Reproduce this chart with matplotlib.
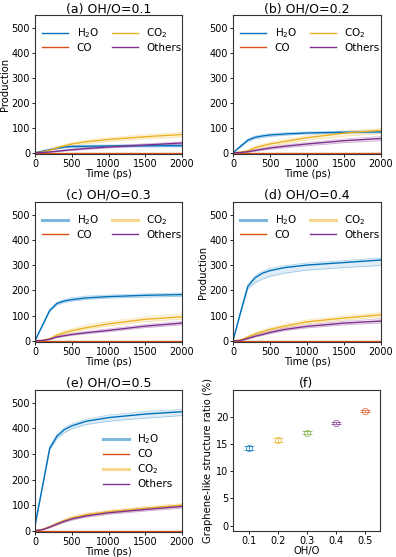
import matplotlib
matplotlib.use("Agg")
import matplotlib.pyplot as plt
from matplotlib.lines import Line2D

# time grid (ps)
t = [0, 100, 200, 300, 400, 500, 700, 1000, 1500, 2000]
co_zero = [0, 0, 0, 0, 0, 0, 0, 0, 0, 0]

# (a) OH/O=0.1
a_h2o = [0, 6, 12, 18, 23, 25, 26, 27, 28, 28]
a_h2o_lo = [0, 5, 10, 15, 19, 21, 22, 23, 23, 24]
a_h2o_hi = [0, 8, 15, 22, 27, 29, 30, 31, 32, 33]
a_co2 = [0, 3, 10, 20, 28, 35, 44, 53, 64, 73]
a_co2_lo = [0, 2, 7, 15, 22, 28, 36, 45, 56, 63]
a_co2_hi = [0, 4, 13, 24, 33, 40, 50, 60, 72, 82]
a_oth = [0, 1, 3, 6, 9, 12, 17, 23, 31, 39]
a_oth_lo = [0, 0, 2, 4, 7, 9, 13, 19, 27, 34]
a_oth_hi = [0, 2, 5, 8, 12, 15, 20, 27, 36, 43]

# (b) OH/O=0.2
b_h2o = [0, 25, 50, 62, 67, 71, 75, 79, 82, 83]
b_h2o_lo = [0, 22, 45, 56, 61, 65, 70, 75, 78, 80]
b_h2o_hi = [0, 28, 55, 67, 72, 76, 80, 83, 86, 88]
b_co2 = [0, 2, 8, 20, 28, 35, 45, 60, 78, 90]
b_co2_lo = [0, 1, 5, 14, 21, 27, 36, 50, 66, 76]
b_co2_hi = [0, 3, 11, 25, 34, 42, 53, 68, 86, 97]
b_oth = [0, 1, 4, 9, 14, 19, 26, 35, 48, 57]
b_oth_lo = [0, 0, 2, 6, 10, 14, 20, 28, 40, 48]
b_oth_hi = [0, 2, 6, 12, 18, 23, 31, 41, 55, 65]

# (c) OH/O=0.3
c_h2o = [0, 60, 120, 148, 158, 163, 170, 175, 180, 183]
c_h2o_lo = [0, 58, 116, 142, 152, 157, 164, 169, 173, 176]
c_h2o_hi = [0, 62, 124, 153, 164, 170, 177, 181, 186, 189]
c_co2 = [0, 1, 8, 22, 32, 40, 52, 67, 85, 95]
c_co2_lo = [0, 0, 6, 18, 27, 34, 45, 59, 76, 86]
c_co2_hi = [0, 2, 11, 28, 39, 48, 61, 76, 95, 106]
c_oth = [0, 1, 6, 15, 20, 25, 32, 41, 58, 70]
c_oth_lo = [0, 0, 4, 12, 17, 21, 27, 36, 52, 63]
c_oth_hi = [0, 2, 8, 18, 24, 29, 37, 47, 64, 77]

# (d) OH/O=0.4
d_h2o = [0, 110, 215, 250, 268, 278, 290, 300, 310, 320]
d_h2o_lo = [0, 105, 205, 230, 245, 255, 268, 280, 290, 298]
d_h2o_hi = [0, 113, 222, 258, 276, 287, 298, 308, 318, 328]
d_co2 = [0, 2, 15, 27, 36, 45, 58, 75, 90, 103]
d_co2_lo = [0, 1, 11, 22, 30, 38, 51, 67, 82, 95]
d_co2_hi = [0, 3, 18, 32, 42, 51, 66, 82, 98, 112]
d_oth = [0, 1, 9, 18, 25, 33, 45, 57, 70, 78]
d_oth_lo = [0, 0, 6, 14, 21, 28, 40, 51, 63, 70]
d_oth_hi = [0, 2, 12, 22, 30, 38, 51, 63, 77, 87]

# (e) OH/O=0.5
e_h2o = [20, 170, 322, 370, 395, 410, 428, 442, 456, 465]
e_h2o_lo = [18, 165, 315, 360, 383, 398, 415, 428, 440, 450]
e_h2o_hi = [22, 175, 328, 378, 403, 418, 436, 452, 466, 474]
e_co2 = [0, 5, 15, 28, 40, 50, 63, 74, 88, 100]
e_co2_lo = [0, 3, 12, 24, 35, 44, 57, 68, 82, 94]
e_co2_hi = [0, 7, 18, 33, 45, 56, 69, 80, 94, 106]
e_oth = [0, 4, 14, 26, 37, 46, 58, 70, 83, 95]
e_oth_lo = [0, 3, 11, 22, 32, 41, 53, 64, 77, 88]
e_oth_hi = [0, 6, 17, 30, 41, 51, 64, 76, 89, 101]

# (f) graphene-like ratio
oho = [0.1, 0.2, 0.3, 0.4, 0.5]
ratio = [14.3, 15.8, 17.1, 18.9, 21.1]
ratio_err = [0.3, 0.3, 0.3, 0.2, 0.2]

BLUE = '#0072BD'
RED = '#D95319'
YEL = '#EDB120'
PUR = '#7E2F8E'
GRN = '#77AC30'
f_colors = [BLUE, YEL, GRN, PUR, RED]

plt.rcParams['font.family'] = 'DejaVu Sans'
plt.rcParams['font.size'] = 7.2

fig = plt.figure(figsize=(3.96, 5.57), dpi=100)
W, H = 396.0, 557.0


def add_ax(l, r, top, bot):
    return fig.add_axes([l / W, 1 - bot / H, (r - l) / W, (bot - top) / H])


def style(ax):
    for s in ax.spines.values():
        s.set_linewidth(0.8)
        s.set_color('0.2')
    ax.tick_params(labelsize=7, length=2.5, width=0.6, pad=1)


def prod_panel(ax, title, h2o, h2o_lo, h2o_hi, co2, co2_lo, co2_hi, oth, oth_lo, oth_hi, thick, ylab, legend_mode):
    for mean, lo, hi, c in [(h2o, h2o_lo, h2o_hi, BLUE), (co2, co2_lo, co2_hi, YEL), (oth, oth_lo, oth_hi, PUR)]:
        ax.fill_between(t, lo, hi, color=c, alpha=0.12, lw=0)
        ax.plot(t, lo, color=c, lw=0.6, alpha=0.3)
        ax.plot(t, hi, color=c, lw=0.6, alpha=0.3)
    ax.plot(t, co_zero, color=RED, lw=1.0)
    ax.plot(t, h2o, color=BLUE, lw=1.0)
    ax.plot(t, co2, color=YEL, lw=1.0)
    ax.plot(t, oth, color=PUR, lw=1.0)
    ax.set_xlim(0, 2000)
    ax.set_ylim(-5, 550)
    ax.set_xticks([0, 500, 1000, 1500, 2000])
    ax.set_yticks([0, 100, 200, 300, 400, 500])
    ax.set_title(title, fontsize=9, pad=1.5)
    ax.set_xlabel('Time (ps)', labelpad=0)
    if ylab:
        ax.set_ylabel('Production', labelpad=1)
    if thick:
        h_h2o = Line2D([], [], color=BLUE, lw=2.2, alpha=0.5)
        h_co2 = Line2D([], [], color=YEL, lw=2.2, alpha=0.5)
    else:
        h_h2o = Line2D([], [], color=BLUE, lw=1.0)
        h_co2 = Line2D([], [], color=YEL, lw=1.0)
    h_co = Line2D([], [], color=RED, lw=1.0)
    h_oth = Line2D([], [], color=PUR, lw=1.0)
    if legend_mode == 'two':
        ax.legend([h_h2o, h_co, h_co2, h_oth], ['H$_2$O', 'CO', 'CO$_2$', 'Others'],
                  ncol=2, loc='upper left', frameon=False, fontsize=7.5,
                  handlelength=2.5, handletextpad=0.8, columnspacing=1.2,
                  borderaxespad=0.3, labelspacing=0.25, bbox_to_anchor=(0.0, 0.97))
    else:
        ax.legend([h_h2o, h_co, h_co2, h_oth], ['H$_2$O', 'CO', 'CO$_2$', 'Others'],
                  loc='center right', frameon=False, fontsize=7.5,
                  handlelength=2.5, handletextpad=0.8, labelspacing=0.3,
                  bbox_to_anchor=(1.0, 0.5))
    style(ax)


ax_a = add_ax(35, 182, 15, 154)
prod_panel(ax_a, '(a) OH/O=0.1', a_h2o, a_h2o_lo, a_h2o_hi, a_co2, a_co2_lo, a_co2_hi,
           a_oth, a_oth_lo, a_oth_hi, False, True, 'two')
ax_b = add_ax(233, 381, 15, 154)
prod_panel(ax_b, '(b) OH/O=0.2', b_h2o, b_h2o_lo, b_h2o_hi, b_co2, b_co2_lo, b_co2_hi,
           b_oth, b_oth_lo, b_oth_hi, False, False, 'two')
ax_c = add_ax(35, 182, 202, 342)
prod_panel(ax_c, '(c) OH/O=0.3', c_h2o, c_h2o_lo, c_h2o_hi, c_co2, c_co2_lo, c_co2_hi,
           c_oth, c_oth_lo, c_oth_hi, True, False, 'two')
ax_d = add_ax(233, 381, 202, 342)
prod_panel(ax_d, '(d) OH/O=0.4', d_h2o, d_h2o_lo, d_h2o_hi, d_co2, d_co2_lo, d_co2_hi,
           d_oth, d_oth_lo, d_oth_hi, True, True, 'two')
ax_e = add_ax(35, 182, 390, 532)
prod_panel(ax_e, '(e) OH/O=0.5', e_h2o, e_h2o_lo, e_h2o_hi, e_co2, e_co2_lo, e_co2_hi,
           e_oth, e_oth_lo, e_oth_hi, True, False, 'one')

ax_f = add_ax(233, 380, 390, 531)
for x, y, err, c in zip(oho, ratio, ratio_err, f_colors):
    ax_f.errorbar([x], [y], yerr=[err], fmt='o', mfc='none', mec=c, ecolor=c,
                  ms=4.5, mew=0.6, elinewidth=0.6, capsize=3.5, capthick=0.6, alpha=0.8)
ax_f.set_xlim(0.045, 0.55)
ax_f.set_ylim(-1, 25)
ax_f.set_xticks(oho)
ax_f.set_yticks([0, 5, 10, 15, 20])
ax_f.set_title('(f)', fontsize=9, pad=1.5)
ax_f.set_xlabel('OH/O', labelpad=0)
ax_f.set_ylabel('Graphene-like structure ratio (%)', labelpad=2)
style(ax_f)

fig.savefig('out.png', dpi=100)
